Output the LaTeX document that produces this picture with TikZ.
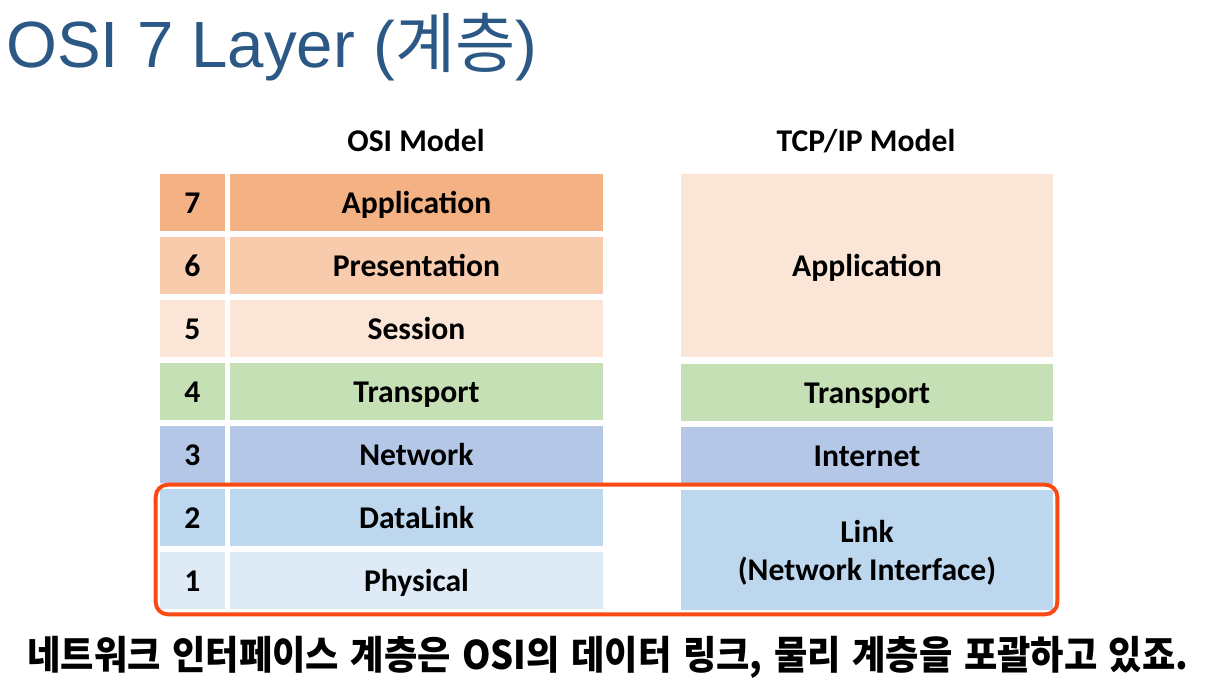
\documentclass[tikz,border=0pt]{standalone}
\usepackage{fontspec}
\setmainfont{Carlito}
\newfontfamily\titlefont{Liberation Sans}
\newfontfamily\cjk{Noto Sans CJK KR}
\newfontfamily\cjkcap[FakeStretch=0.92,WordSpace=1.4]{Noto Sans CJK KR}
\usetikzlibrary{positioning,fit}
\definecolor{titleblue}{HTML}{2B5885}
\definecolor{lay7}{HTML}{F4B183}
\definecolor{lay6}{HTML}{F8CBAD}
\definecolor{lay5}{HTML}{FBE5D6}
\definecolor{lay4}{HTML}{C5E0B4}
\definecolor{lay3}{HTML}{B4C7E7}
\definecolor{lay2}{HTML}{BDD7EE}
\definecolor{lay1}{HTML}{DEEBF7}
\definecolor{hilite}{HTML}{FA4A14}
\tikzset{cell/.style={inner sep=0pt,minimum height=1.425cm,font=\fontsize{22.5}{26.5}\selectfont\bfseries,align=center,text height=20pt,text depth=4pt}, numcell/.style={cell,minimum width=1.625cm}, laycell/.style={cell,minimum width=9.325cm}, tcpcell/.style={cell,minimum width=9.3cm}, header/.style={font=\fontsize{22.5}{26}\selectfont\bfseries}, titletext/.style={inner sep=0pt,text=titleblue,font=\titlefont\fontsize{46.5}{54}\selectfont}, hibox/.style={draw=hilite,line width=2.8pt,rounded corners=0.3cm,inner sep=0.1cm}, caption/.style={inner sep=0pt,font=\cjkcap\bfseries\fontsize{28}{32}\selectfont}}
\begin{document}
\begin{tikzpicture}[x=0.025cm,y=-0.025cm]
\useasboundingbox (0,0) rectangle (1216,690);
\node[titletext,anchor=base west] (title) at (6,68) {OSI 7 Layer ({\cjk 계층})};
\node[header] (osihead) at (416,141) {OSI Model};
\node[header] (tcphead) at (866,141) {TCP/IP Model};
% OSI layers
\foreach \n/\name in {7/Application,6/Presentation,5/Session,4/Transport,3/Network,2/DataLink,1/Physical}{
  \node[numcell,fill=lay\n] (n\n) at (192.5,{202.5+63*(7-\n)}) {\n};
  \node[laycell,fill=lay\n] (l\n) at (416.5,{202.5+63*(7-\n)}) {\name};
}
% TCP/IP layers
\node[tcpcell,fill=lay5,minimum height=4.575cm] (tapp) at (867,265.5) {Application};
\node[tcpcell,fill=lay4] (ttrans) at (867,392.5) {Transport};
\node[tcpcell,fill=lay3] (tinet) at (867,455.5) {Internet};
\node[tcpcell,fill=lay2,minimum height=3cm,text height=47pt,text depth=4pt] (tlink) at (867,550) {Link\\(Network Interface)};
\node[hibox,fit=(n2)(n1)(tlink)] (hi) {};
\node[caption] (cap) at (608,657) {네트워크 인터페이스 계층은 OSI의 데이터 링크, 물리 계층을 포괄하고 있죠.};
\end{tikzpicture}
\end{document}
